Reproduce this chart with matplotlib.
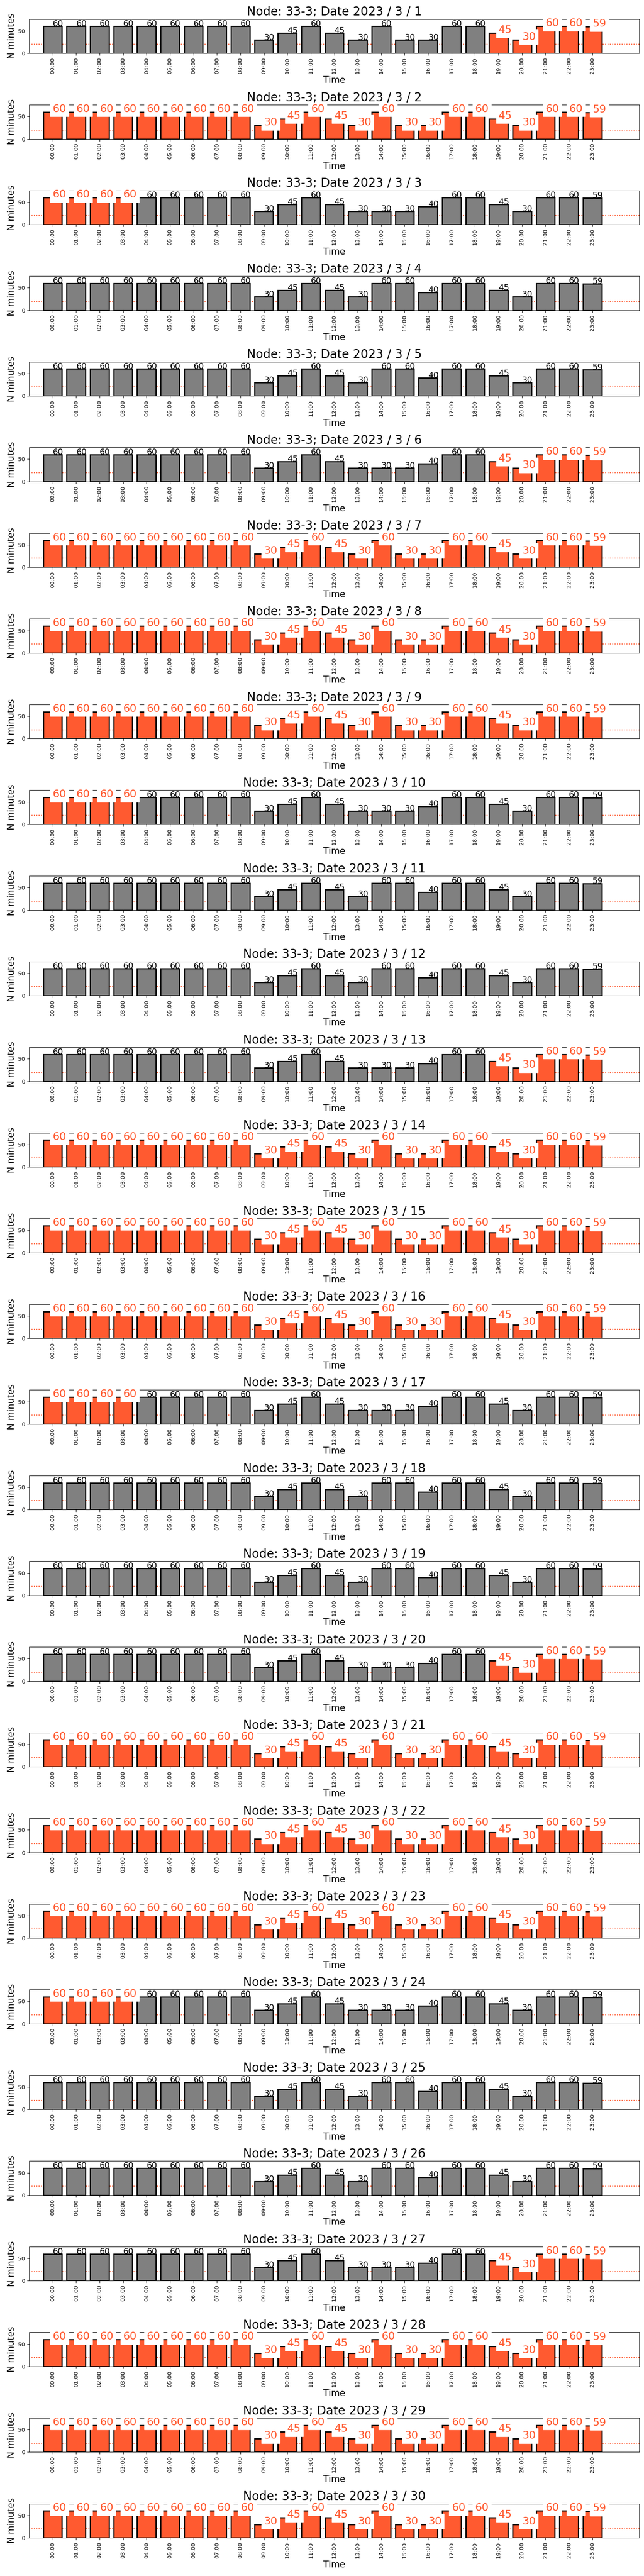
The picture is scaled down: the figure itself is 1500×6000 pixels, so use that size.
import matplotlib
matplotlib.use("Agg")
import matplotlib.pyplot as plt

hours = ["00:00", "01:00", "02:00", "03:00", "04:00", "05:00", "06:00", "07:00",
         "08:00", "09:00", "10:00", "11:00", "12:00", "13:00", "14:00", "15:00",
         "16:00", "17:00", "18:00", "19:00", "20:00", "21:00", "22:00", "23:00"]

# minutes per hour, three recurring daily profiles
profile_A = [60, 60, 60, 60, 60, 60, 60, 60, 60, 30, 45, 60,
             45, 30, 30, 30, 40, 60, 60, 45, 30, 60, 60, 59]
profile_B = [60, 60, 60, 60, 60, 60, 60, 60, 60, 30, 45, 60,
             45, 30, 60, 60, 40, 60, 60, 45, 30, 60, 60, 59]
profile_C = [60, 60, 60, 60, 60, 60, 60, 60, 60, 30, 45, 60,
             45, 30, 60, 30, 30, 60, 60, 45, 30, 60, 60, 59]
profiles = {"A": profile_A, "B": profile_B, "C": profile_C}

days = list(range(1, 31))
day_profile = ["C", "C", "A", "B", "B", "A", "C", "C", "C", "A",
               "B", "B", "A", "C", "C", "C", "A", "B", "B", "A",
               "C", "C", "C", "A", "B", "B", "A", "C", "C", "C"]
day_highlight = ["late", "all", "early", "none", "none", "late", "all", "all", "all", "early",
                 "none", "none", "late", "all", "all", "all", "early", "none", "none", "late",
                 "all", "all", "all", "early", "none", "none", "late", "all", "all", "all"]
highlight_hours = {
    "late": [19, 20, 21, 22, 23],
    "early": [0, 1, 2, 3],
    "all": list(range(24)),
    "none": [],
}
threshold = 20
node = "33-3"

ORANGE = "#ff5a30"
GREY = "grey"

fig, axes = plt.subplots(30, 1, figsize=(15, 60), dpi=100)
fig.subplots_adjust(left=0.0453, right=0.9927, top=0.99258, bottom=0.01483, hspace=1.51)

for ax, day, prof, hl in zip(axes, days, day_profile, day_highlight):
    vals = profiles[prof]
    hset = highlight_hours[hl]
    xs = list(range(len(hours)))
    colors = [ORANGE if i in hset else GREY for i in xs]
    ax.bar(xs, vals, width=0.8, color=colors, edgecolor="black", linewidth=2)
    for i, v in zip(xs, vals):
        if i in hset:
            ax.text(i, v, str(v), fontsize=18, color=ORANGE,
                    bbox=dict(facecolor="white", edgecolor="white"))
        else:
            ax.text(i, v, str(v), fontsize=14, color="black")
    ax.axhline(threshold, color=ORANGE, linestyle=":", linewidth=1.5, zorder=0)
    ax.set_xlim(-1, 25)
    ax.set_ylim(0, 76)
    ax.set_yticks([0, 50])
    ax.tick_params(axis="y", labelsize=9)
    ax.set_xticks(xs)
    ax.set_xticklabels(hours, rotation=90, fontsize=9.5)
    ax.set_ylabel("N minutes", fontsize=15)
    ax.set_xlabel("Time", fontsize=15)
    ax.set_title(f"Node: {node}; Date 2023 / 3 / {day}", fontsize=20)

fig.savefig("out.png", dpi=100)
